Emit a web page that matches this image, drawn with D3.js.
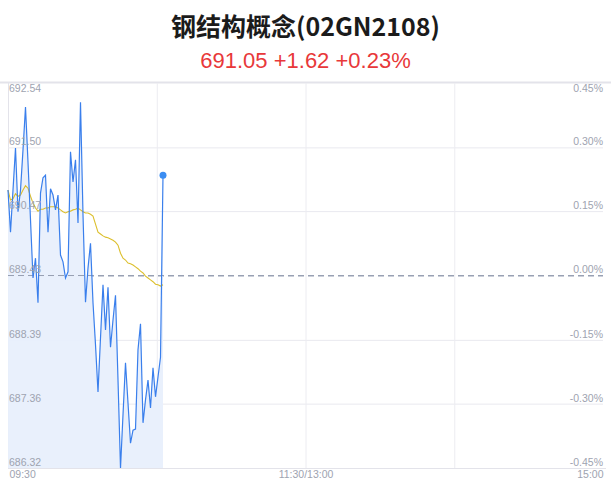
<!DOCTYPE html>
<html>
<head>
<meta charset="utf-8">
<script src="https://cdn.jsdelivr.net/npm/d3@7"></script>
<style>
html,body{margin:0;padding:0;background:#fff;}
svg{display:block;}
</style>
</head>
<body>
<svg id="chart" width="611" height="492"></svg>
<script>
const title = "钢结构概念(02GN2108)";
const subtitle = "691.05 +1.62 +0.23%";
const prevClose = 689.43;
const leftTicks = [692.54, 691.50, 690.47, 689.43, 688.39, 687.36, 686.32];
const rightTickLabels = ["0.45%", "0.30%", "0.15%", "0.00%", "-0.15%", "-0.30%", "-0.45%"];
const timeTicks = [0, 120, 240];
const timeLabels = ["09:30", "11:30/13:00", "15:00"];
const price = [690.81,690.13,690.81,691.49,690.46,690.81,691.46,692.15,691.26,690.33,
  689.39,689.71,688.99,690.76,691.01,691.05,690.13,690.83,690.73,690.49,
  690.73,689.76,689.65,689.39,689.49,691.43,690.94,691.30,690.28,692.23,
  690.41,689.00,689.55,689.95,688.99,688.31,687.55,688.42,689.28,688.55,
  689.24,688.27,688.71,689.11,687.74,686.32,687.18,688.02,687.37,686.72,
  686.93,686.95,688.23,688.65,687.05,687.42,687.74,687.29,687.94,687.47,
  687.79,688.11,691.05];
const avgPrice = [690.81,690.65,690.67,690.75,690.71,690.73,690.81,690.88,690.84,690.71,
  690.60,690.52,690.47,690.50,690.50,690.52,690.52,690.54,690.54,690.54,
  690.52,690.49,690.46,690.44,690.46,690.47,690.49,690.50,690.52,690.49,
  690.46,690.44,690.44,690.42,690.39,690.26,690.13,690.10,690.07,690.05,
  690.04,690.02,690.00,689.97,689.92,689.79,689.71,689.68,689.63,689.62,
  689.60,689.57,689.54,689.50,689.47,689.42,689.39,689.36,689.33,689.29,
  689.28,689.26,689.28];

const L = 8, R = 603, T = 83, B = 468;
const svg = d3.select("#chart");
const x = d3.scaleLinear().domain([0, 238]).range([L, R]);
const xg = d3.scaleLinear().domain([0, 240]).range([L, R]);
const y = d3.scaleLinear().domain([686.32, 692.54]).range([B, T]);
const labelFont = "'Liberation Sans', Arial, sans-serif";

// title
svg.append("text").attr("x", 305.5).attr("y", 36).attr("text-anchor", "middle")
  .attr("font-family", "'Noto Sans CJK SC', sans-serif").attr("font-weight", "bold")
  .attr("font-size", 25).attr("fill", "#1b1b1b").text(title);
svg.append("text").attr("x", 305.5).attr("y", 68).attr("text-anchor", "middle")
  .attr("font-family", labelFont).attr("font-size", 22).attr("fill", "#e8383a").text(subtitle);

// top and bottom borders
svg.append("line").attr("x1", 0).attr("x2", 611).attr("y1", T - 0.5).attr("y2", T - 0.5)
  .attr("stroke", "#e3e3ea").attr("stroke-width", 2);
svg.append("line").attr("x1", L).attr("x2", 606).attr("y1", B + 0.5).attr("y2", B + 0.5)
  .attr("stroke", "#e3e3ea").attr("stroke-width", 1);
svg.append("line").attr("x1", L + 0.5).attr("x2", L + 0.5).attr("y1", T).attr("y2", B)
  .attr("stroke", "#e3e3ea").attr("stroke-width", 1);

// horizontal grid
const gy = svg.append("g").attr("transform", `translate(${L},0)`)
  .call(d3.axisRight(y).tickValues(leftTicks.slice(1, 6)).tickSize(R - L).tickFormat(""));
gy.select(".domain").remove();
gy.selectAll(".tick line").attr("stroke", "#e9e9ef");
gy.selectAll(".tick").filter(d => d === prevClose).select("line")
  .attr("stroke", "#98a0b3").attr("stroke-dasharray", "6,4");

// vertical grid
const gx = svg.append("g").attr("transform", `translate(0,${T})`)
  .call(d3.axisBottom(xg).tickValues([60, 120, 180]).tickSize(B - T).tickFormat(""));
gx.select(".domain").remove();
gx.selectAll(".tick line").attr("stroke", "#ececf1");

// area + lines
const area = d3.area().x((d, i) => x(i)).y0(B).y1(d => y(d));
svg.append("path").datum(price).attr("d", area).attr("fill", "#e8effc").attr("opacity", 0.95);
// re-draw dashed prev-close on top of fill
svg.append("line").attr("x1", L).attr("x2", R).attr("y1", y(prevClose)).attr("y2", y(prevClose))
  .attr("stroke", "#98a0b3").attr("stroke-dasharray", "6,4").attr("stroke-width", 1);

const line = d3.line().x((d, i) => x(i)).y(d => y(d));
svg.append("path").datum(avgPrice).attr("d", line).attr("fill", "none")
  .attr("stroke", "#dcbf2c").attr("stroke-width", 1.1);
svg.append("path").datum(price).attr("d", line).attr("fill", "none")
  .attr("stroke", "#3a7fec").attr("stroke-width", 1.2);
svg.append("circle").attr("cx", x(price.length - 1)).attr("cy", y(price[price.length - 1]))
  .attr("r", 3.5).attr("fill", "#3b8df2");

// left labels
const al = svg.append("g").attr("transform", `translate(${L},0)`)
  .call(d3.axisRight(y).tickValues(leftTicks).tickSize(0).tickPadding(1).tickFormat(d3.format(".2f")));
al.select(".domain").remove();
al.selectAll("text").attr("font-family", labelFont).attr("font-size", 10.5).attr("fill", "#9ea3b0")
  .attr("dy", (d, i) => i === 0 ? "0.85em" : "-0.25em");

// right labels
const ar = svg.append("g").attr("transform", `translate(${R},0)`)
  .call(d3.axisLeft(y).tickValues(leftTicks).tickSize(0).tickPadding(0)
    .tickFormat((d, i) => rightTickLabels[i]));
ar.select(".domain").remove();
ar.selectAll("text").attr("font-family", labelFont).attr("font-size", 10.5).attr("fill", "#9ea3b0")
  .attr("dy", (d, i) => i === 0 ? "0.85em" : "-0.25em");

// time labels
const ab = svg.append("g").attr("transform", `translate(0,${B})`)
  .call(d3.axisBottom(xg).tickValues(timeTicks).tickSize(0).tickPadding(3)
    .tickFormat((d, i) => timeLabels[i]));
ab.select(".domain").remove();
ab.selectAll("text").attr("font-family", labelFont).attr("font-size", 10.5).attr("fill", "#9ea3b0")
  .attr("text-anchor", (d, i) => i === 0 ? "start" : (i === 2 ? "end" : "middle"))
  .attr("dx", (d, i) => i === 0 ? 1 : 0);
</script>
</body>
</html>
